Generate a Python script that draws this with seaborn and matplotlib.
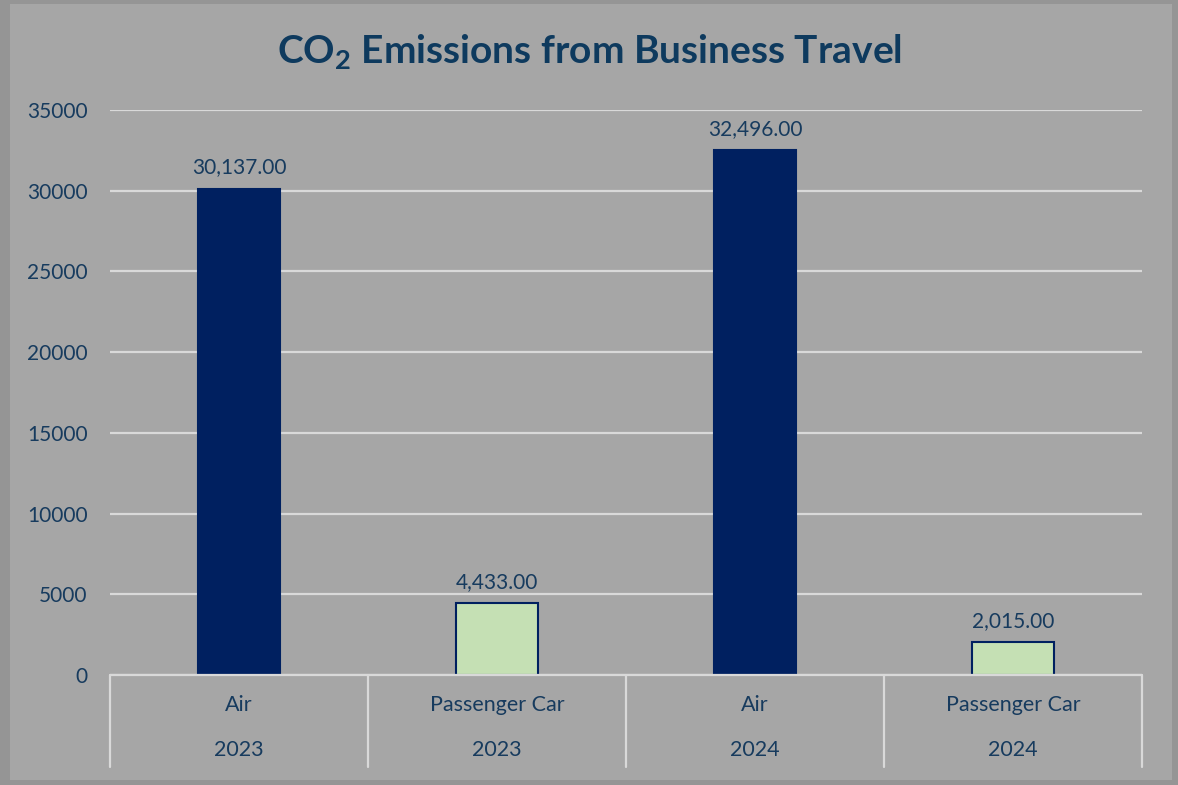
import matplotlib
matplotlib.use("Agg")
import matplotlib.pyplot as plt
from matplotlib.patches import Rectangle
import seaborn as sns
import pandas as pd

# Chart data
modes = ["Air", "Passenger Car", "Air", "Passenger Car"]
years = ["2023", "2023", "2024", "2024"]
emissions = [30137.00, 4433.00, 32496.00, 2015.00]

mode_colors = {"Air": "#002060", "Passenger Car": "#c5e0b4"}
text_color = "#173b5e"
panel_color = "#a6a6a6"
grid_color = "#d9d9d9"

df = pd.DataFrame({
    "slot": [f"{m} {y}" for m, y in zip(modes, years)],
    "mode": modes,
    "year": years,
    "value": emissions,
})

sns.set_theme(style="white")
plt.rcParams["font.family"] = ["Lato", "DejaVu Sans"]

fig = plt.figure(figsize=(11.78, 7.85), dpi=100)
fig.patch.set_facecolor("#959595")
# chart panel with a slight drop shadow around it
fig.add_artist(Rectangle((10 / 1178, 1 - 780 / 785), 1162 / 1178, 776 / 785,
                         transform=fig.transFigure, facecolor=panel_color,
                         edgecolor="none", zorder=0))

ax = fig.add_axes([110 / 1178, 1 - 675 / 785, 1032 / 1178, 565 / 785])
ax.set_facecolor(panel_color)

sns.barplot(data=df, x="slot", y="value", hue="mode", palette=mode_colors,
            dodge=False, width=0.32, legend=False, ax=ax, saturation=1,
            edgecolor="#002060", linewidth=1.5, zorder=3)

ax.set_ylim(0, 35000)
ax.set_xlim(-0.5, len(df) - 0.5)
ax.set_yticks(range(0, 35001, 5000))
ax.yaxis.grid(True, color=grid_color, linewidth=1.6, zorder=0)
ax.set_axisbelow(True)
for s in ax.spines.values():
    s.set_visible(False)
ax.tick_params(axis="y", length=0, pad=16, labelsize=15, labelcolor=text_color)
ax.set_xticks([])
ax.set_xlabel("")
ax.set_ylabel("")

for container in ax.containers:
    ax.bar_label(container, fmt="{:,.2f}", padding=8, fontsize=15,
                 color=text_color)

# multi-level category axis
trans = ax.get_xaxis_transform()
ax.plot([-0.5, len(df) - 0.5], [0, 0], transform=trans, color=grid_color,
        linewidth=1.6, clip_on=False, zorder=4)
for b in [i - 0.5 for i in range(len(df) + 1)]:
    ax.plot([b, b], [0, -0.162], transform=trans, color=grid_color,
            linewidth=1.6, clip_on=False, zorder=4)
for i, (m, y) in enumerate(zip(modes, years)):
    ax.text(i, -0.053, m, transform=trans, ha="center", va="center",
            fontsize=15.5, color=text_color)
    ax.text(i, -0.133, y, transform=trans, ha="center", va="center",
            fontsize=15.5, color=text_color)

fig.text(0.5, 1 - 52 / 785, r"CO$_\mathregular{2}$ Emissions from Business Travel",
         ha="center", va="center", fontsize=28, fontweight="bold",
         color="#0e3a5e")

fig.savefig("out.png", dpi=100, facecolor=fig.get_facecolor())
